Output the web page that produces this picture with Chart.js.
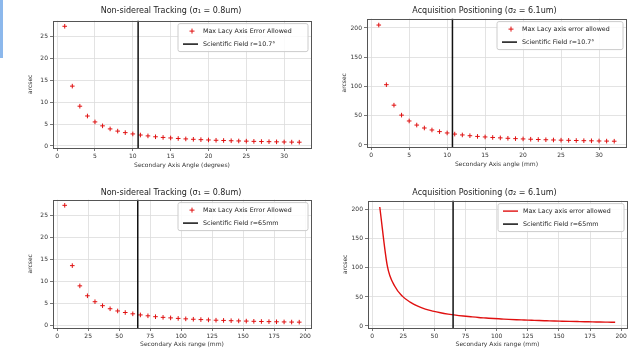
<!DOCTYPE html>
<html>
<head>
<meta charset="utf-8">
<script src="https://cdn.jsdelivr.net/npm/chart.js@4.4.1/dist/chart.umd.min.js"></script>
<style>
  body { margin: 0; background: #fff; width: 631px; height: 352px; position: relative; overflow: hidden; }
  .cell { position: absolute; }
  #strip { position: absolute; left: 0; top: 0; width: 3px; height: 58px; background: #8cb8ec; }
</style>
</head>
<body>
<div id="strip"></div>
<div class="cell" style="left:0;top:0;width:316px;height:176px"><canvas id="c1"></canvas></div>
<div class="cell" style="left:315px;top:0;width:316px;height:176px"><canvas id="c2"></canvas></div>
<div class="cell" style="left:0;top:176px;width:316px;height:176px"><canvas id="c3"></canvas></div>
<div class="cell" style="left:315px;top:176px;width:316px;height:176px"><canvas id="c4"></canvas></div>
<script>
// secondary axis steps (degrees) and the same in mm
var angleDeg = [1,2,3,4,5,6,7,8,9,10,11,12,13,14,15,16,17,18,19,20,21,22,23,24,25,26,27,28,29,30,31,32];
var rangeMm = [6.1,12.2,18.3,24.4,30.5,36.6,42.7,48.8,54.9,61,67.1,73.2,79.3,85.4,91.5,97.6,103.7,109.8,115.9,122,128.1,134.2,140.3,146.4,152.5,158.6,164.7,170.8,176.9,183,189.1,195.2];

// max error allowed (arcsec)
var trackingErr = [27.4,13.7,9.1,6.85,5.5,4.6,3.9,3.4,3.05,2.75,2.5,2.3,2.1,1.95,1.83,1.71,1.61,1.52,1.44,1.37,1.3,1.25,1.19,1.14,1.1,1.05,1.01,0.98,0.94,0.91,0.88,0.86];
var acquisitionErr = [205,103,68,51,41,34,29,25.6,22.8,20.5,18.6,17.1,15.8,14.6,13.7,12.8,12.1,11.4,10.8,10.3,9.8,9.3,8.9,8.5,8.2,7.9,7.6,7.3,7.1,6.8,6.6,6.4];

var fieldDeg = 10.7;
var fieldMm = 65;

var degTicks = [0,5,10,15,20,25,30];
var mmTicks = [0,25,50,75,100,125,150,175,200];
var trackTicks = [0,5,10,15,20,25];
var acqTicks = [0,50,100,150,200];

var FONT = "'DejaVu Sans', sans-serif";

function pts(xs, ys) {
    return xs.map(function(x, i) { return {x: x, y: ys[i]}; });
}

// frame + legend drawn like matplotlib
var boxPlugin = {
    id: "box",
    afterDraw: function(chart) {
        var ctx = chart.ctx, a = chart.chartArea;
        ctx.save();
        ctx.strokeStyle = "#555";
        ctx.lineWidth = 1;
        ctx.strokeRect(Math.round(a.left) + 0.5, Math.round(a.top) + 0.5, Math.round(a.right - a.left), Math.round(a.bottom - a.top));
        // legend
        var lg = chart.options.plugins.box;
        var w = lg.width, h = 28;
        var x0 = a.right - w - 3, y0 = a.top + 3;
        ctx.fillStyle = "rgba(255,255,255,0.85)";
        ctx.strokeStyle = "#ccc";
        ctx.beginPath();
        ctx.roundRect(x0, y0, w, h, 2);
        ctx.fill();
        ctx.stroke();
        ctx.font = "6.3px " + FONT;
        ctx.textBaseline = "middle";
        chart.data.datasets.forEach(function(ds, i) {
            var yy = y0 + 7.5 + i * 13;
            if (ds.showLine === false) {
                ctx.strokeStyle = ds.borderColor;
                ctx.lineWidth = 1;
                ctx.beginPath();
                ctx.moveTo(x0 + 14, yy - 2.5); ctx.lineTo(x0 + 14, yy + 2.5);
                ctx.moveTo(x0 + 11.5, yy); ctx.lineTo(x0 + 16.5, yy);
                ctx.stroke();
            } else {
                ctx.strokeStyle = ds.borderColor;
                ctx.lineWidth = ds.borderWidth;
                ctx.beginPath();
                ctx.moveTo(x0 + 5, yy); ctx.lineTo(x0 + 20, yy);
                ctx.stroke();
            }
            ctx.fillStyle = "#222";
            ctx.fillText(ds.label, x0 + 25, yy);
        });
        ctx.restore();
    }
};

function makeChart(id, cfg) {
    var series = {
        label: cfg.seriesLabel,
        data: pts(cfg.xs, cfg.ys),
        borderColor: "#e01010",
        backgroundColor: "#e01010",
        order: 2
    };
    if (cfg.asLine) {
        series.showLine = true;
        series.pointRadius = 0;
        series.borderWidth = 1.4;
        series.cubicInterpolationMode = "monotone";
    } else {
        series.showLine = false;
        series.pointStyle = "cross";
        series.pointRadius = 2.3;
        series.borderWidth = 1;
    }
    var vline = {
        label: cfg.fieldLabel,
        data: [{x: cfg.field, y: cfg.ymin}, {x: cfg.field, y: cfg.ymax}],
        showLine: true,
        borderColor: "#111",
        borderWidth: 1.5,
        pointRadius: 0,
        order: 1
    };
    return new Chart(document.getElementById(id), {
        type: "scatter",
        data: { datasets: [series, vline] },
        plugins: [boxPlugin],
        options: {
            responsive: true,
            maintainAspectRatio: false,
            animation: false,
            layout: { padding: cfg.pad },
            plugins: {
                legend: { display: false },
                tooltip: { enabled: false },
                box: { width: cfg.legendWidth },
                title: {
                    display: true,
                    text: cfg.title,
                    color: "#222",
                    font: { family: FONT, size: 8, weight: "normal" },
                    padding: { top: cfg.titleTop, bottom: cfg.titleGap }
                }
            },
            scales: {
                x: {
                    type: "linear",
                    min: cfg.xmin, max: cfg.xmax,
                    afterBuildTicks: function(s) { s.ticks = cfg.xTicks.map(function(v) { return {value: v}; }); },
                    afterFit: function(s) { s.height = cfg.xAxisH; },
                    grid: { color: "#dcdcdc", lineWidth: 0.8, tickLength: 3, tickColor: "#555" },
                    border: { display: false },
                    ticks: { color: "#333", font: { family: FONT, size: 6 }, padding: 2, maxRotation: 0, autoSkip: false },
                    title: { display: true, text: cfg.xLabel, color: "#333", font: { family: FONT, size: 6 }, padding: { top: 1, bottom: 0 } }
                },
                y: {
                    type: "linear",
                    min: cfg.ymin, max: cfg.ymax,
                    afterBuildTicks: function(s) { s.ticks = cfg.yTicks.map(function(v) { return {value: v}; }); },
                    afterFit: function(s) { s.width = cfg.yAxisW; },
                    grid: { color: "#dcdcdc", lineWidth: 0.8, tickLength: 3, tickColor: "#555" },
                    border: { display: false },
                    ticks: { color: "#333", font: { family: FONT, size: 6 }, padding: 2, autoSkip: false },
                    title: { display: true, text: "arcsec", color: "#333", font: { family: FONT, size: 6 }, padding: { top: 0, bottom: 0 } }
                }
            }
        }
    });
}

makeChart("c1", {
    title: "Non-sidereal Tracking (\u03c3\u2081 = 0.8um)",
    seriesLabel: "Max Lacy Axis Error Allowed",
    fieldLabel: "Scientific Field r=10.7\u00b0",
    xs: angleDeg, ys: trackingErr, field: fieldDeg,
    xmin: -0.55, xmax: 33.55, ymin: -0.47, ymax: 28.7,
    xTicks: degTicks, yTicks: trackTicks,
    xLabel: "Secondary Axis Angle (degrees)",
    pad: { left: 27, right: 1, top: 0, bottom: 7 },
    titleTop: 6, titleGap: 5, xAxisH: 21, yAxisW: 26, legendWidth: 130
});
makeChart("c2", {
    title: "Acquisition Positioning (\u03c3\u2082 = 6.1um)",
    seriesLabel: "Max Lacy axis error allowed",
    fieldLabel: "Scientific Field r=10.7\u00b0",
    xs: angleDeg, ys: acquisitionErr, field: fieldDeg,
    xmin: -0.55, xmax: 33.55, ymin: -3.5, ymax: 216,
    xTicks: degTicks, yTicks: acqTicks,
    xLabel: "Secondary Axis angle (mm)",
    pad: { left: 26, right: 3, top: 0, bottom: 8 },
    titleTop: 6, titleGap: 3, xAxisH: 21, yAxisW: 26, legendWidth: 126
});
makeChart("c3", {
    title: "Non-sidereal Tracking (\u03c3\u2081 = 0.8um)",
    seriesLabel: "Max Lacy Axis Error Allowed",
    fieldLabel: "Scientific Field r=65mm",
    xs: rangeMm, ys: trackingErr, field: fieldMm,
    xmin: -3.35, xmax: 204.7, ymin: -0.47, ymax: 28.7,
    xTicks: mmTicks, yTicks: trackTicks,
    xLabel: "Secondary Axis range (mm)",
    pad: { left: 27, right: 1, top: 0, bottom: 4 },
    titleTop: 12, titleGap: 2, xAxisH: 20, yAxisW: 26, legendWidth: 130
});
makeChart("c4", {
    title: "Acquisition Positioning (\u03c3\u2082 = 6.1um)",
    seriesLabel: "Max Lacy axis error allowed",
    fieldLabel: "Scientific Field r=65mm",
    xs: rangeMm, ys: acquisitionErr, field: fieldMm, asLine: true,
    xmin: -3.35, xmax: 204.7, ymin: -3.5, ymax: 216,
    xTicks: mmTicks, yTicks: acqTicks,
    xLabel: "Secondary Axis range (mm)",
    pad: { left: 27, right: 4, top: 0, bottom: 4 },
    titleTop: 12, titleGap: 3, xAxisH: 20, yAxisW: 26, legendWidth: 126
});
</script>
</body>
</html>
